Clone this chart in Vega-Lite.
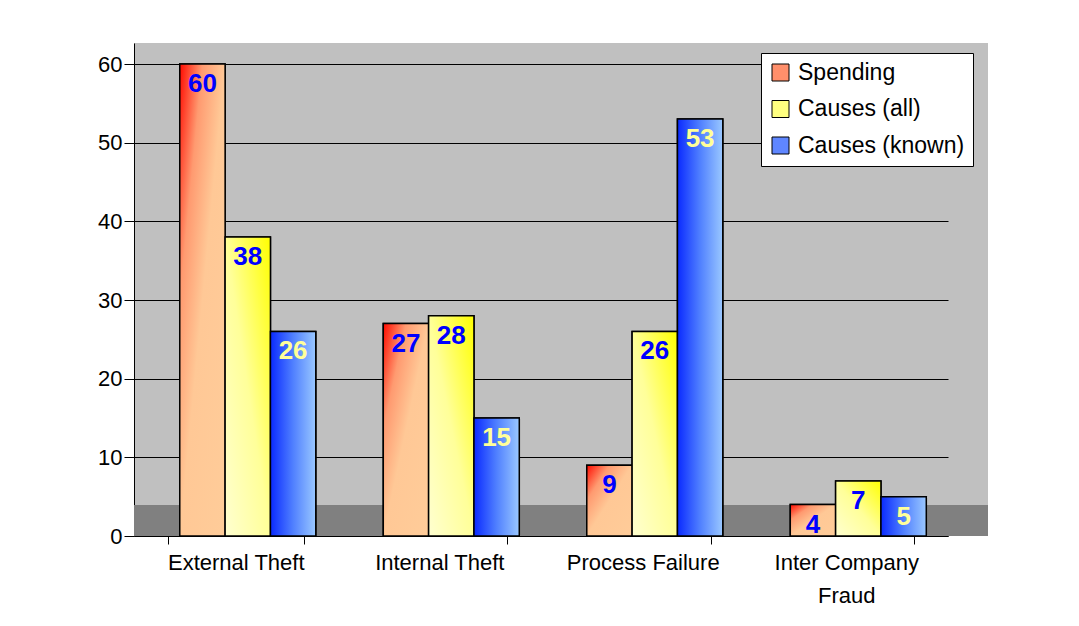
{
  "$schema": "https://vega.github.io/schema/vega-lite/v6.json",
  "width": 854,
  "height": 493,
  "autosize": {"type": "none"},
  "padding": {"left": 134, "top": 43, "right": 91, "bottom": 90},
  "background": "#ffffff",
  "config": {"font": "Liberation Sans", "view": {"fill": "#c0c0c0", "stroke": null}},
  "datasets": {
    "main": [
      {"category": "External Theft", "series": "Spending", "value": 60},
      {"category": "External Theft", "series": "Causes (all)", "value": 38},
      {"category": "External Theft", "series": "Causes (known)", "value": 26},
      {"category": "Internal Theft", "series": "Spending", "value": 27},
      {"category": "Internal Theft", "series": "Causes (all)", "value": 28},
      {"category": "Internal Theft", "series": "Causes (known)", "value": 15},
      {"category": "Process Failure", "series": "Spending", "value": 9},
      {"category": "Process Failure", "series": "Causes (all)", "value": 26},
      {"category": "Process Failure", "series": "Causes (known)", "value": 53},
      {"category": "Inter Company Fraud", "series": "Spending", "value": 4},
      {"category": "Inter Company Fraud", "series": "Causes (all)", "value": 7},
      {"category": "Inter Company Fraud", "series": "Causes (known)", "value": 5}
    ]
  },
  "layer": [
    {
      "data": {"values": [{"part": "floor"}]},
      "mark": {"type": "rect", "fill": "#808080"},
      "encoding": {
        "x": {"value": 0},
        "x2": {"value": "width"},
        "y": {"datum": 0, "type": "quantitative"},
        "y2": {"datum": 3.94}
      }
    },
    {
      "data": {"name": "main"},
      "encoding": {
        "x": {
          "field": "category",
          "type": "nominal",
          "sort": ["External Theft", "Internal Theft", "Process Failure", "Inter Company Fraud"],
          "scale": {"range": [0, 814], "paddingInner": 0.332, "paddingOuter": 0.166},
          "axis": {
            "title": null,
            "labelAngle": 0,
            "labelFontSize": 22,
            "labelColor": "#000000",
            "labelPadding": 8,
            "tickBand": "extent",
            "tickSize": 8,
            "tickColor": "#000000",
            "domainColor": "#000000",
            "labelLineHeight": 33,
            "grid": false,
            "labelExpr": "datum.label == 'Inter Company Fraud' ? ['Inter Company', 'Fraud'] : datum.label"
          }
        },
        "xOffset": {
          "field": "series",
          "type": "nominal",
          "sort": ["Spending", "Causes (all)", "Causes (known)"],
          "scale": {"domain": ["Spending", "Causes (all)", "Causes (known)"], "range": [12, 148], "paddingInner": 0, "paddingOuter": 0}
        },
        "y": {
          "field": "value",
          "type": "quantitative",
          "scale": {"domain": [0, 62.67], "nice": false, "zero": true},
          "axis": {
            "title": null,
            "values": [0, 10, 20, 30, 40, 50, 60],
            "labelFontSize": 22,
            "labelColor": "#000000",
            "tickSize": 10,
            "labelPadding": 2,
            "tickColor": "#000000",
            "domainColor": "#000000",
            "grid": true,
            "gridColor": "#000000",
            "gridOpacity": 1
          }
        }
      },
      "layer": [
        {
          "mark": {"type": "bar", "stroke": "#000000", "strokeWidth": 1.5},
          "encoding": {
            "color": {
              "field": "series",
              "type": "nominal",
              "sort": ["Spending", "Causes (all)", "Causes (known)"],
              "scale": {"domain": ["Spending", "Causes (all)", "Causes (known)"], "range": ["#ff8f6b", "#ffff80", "#5f86ff"]},
              "legend": {
                "title": null,
                "orient": "none",
                "legendX": 627,
                "legendY": 10,
                "fillColor": "#ffffff",
                "strokeColor": "#000000",
                "padding": 8,
                "labelFontSize": 23,
                "labelColor": "#000000",
                "symbolType": "square",
                "symbolSize": 289,
                "symbolStrokeColor": "#000000",
                "symbolStrokeWidth": 1,
                "symbolOpacity": 1,
                "rowPadding": 12.5,
                "labelOffset": 6,
                "labelLimit": 300
              }
            }
          }
        },
        {
          "transform": [{"filter": "datum.series === 'Spending'"}],
          "mark": {
            "type": "bar",
            "stroke": "#000000",
            "strokeWidth": 1.5,
            "fill": {"gradient": "linear", "x1": 0, "y1": 0, "x2": 1, "y2": 1, "stops": [
              {"offset": 0, "color": "#ff0a00"},
              {"offset": 0.25, "color": "#ff9a70"},
              {"offset": 0.5, "color": "#ffc896"},
              {"offset": 1, "color": "#ffcc99"}
            ]}
          }
        },
        {
          "transform": [{"filter": "datum.series === 'Causes (all)'"}],
          "mark": {
            "type": "bar",
            "stroke": "#000000",
            "strokeWidth": 1.5,
            "fill": {"gradient": "linear", "x1": 0, "y1": 1, "x2": 1, "y2": 0, "stops": [
              {"offset": 0, "color": "#ffffd0"},
              {"offset": 0.5, "color": "#ffff99"},
              {"offset": 1, "color": "#ffff00"}
            ]}
          }
        },
        {
          "transform": [{"filter": "datum.series === 'Causes (known)'"}],
          "mark": {
            "type": "bar",
            "stroke": "#000000",
            "strokeWidth": 1.5,
            "fill": {"gradient": "linear", "x1": 0, "y1": 0, "x2": 1, "y2": 0, "stops": [
              {"offset": 0, "color": "#0a2aff"},
              {"offset": 0.5, "color": "#5080ff"},
              {"offset": 1, "color": "#9ac8ff"}
            ]}
          }
        },
        {
          "mark": {"type": "text", "baseline": "middle", "dy": 20, "fontSize": 26, "fontWeight": "bold", "font": "Liberation Sans"},
          "encoding": {
            "text": {"field": "value", "type": "quantitative"},
            "color": {"condition": {"test": "datum.series === 'Causes (known)'", "value": "#ffff99"}, "value": "#0000ff"}
          }
        }
      ]
    }
  ]
}
